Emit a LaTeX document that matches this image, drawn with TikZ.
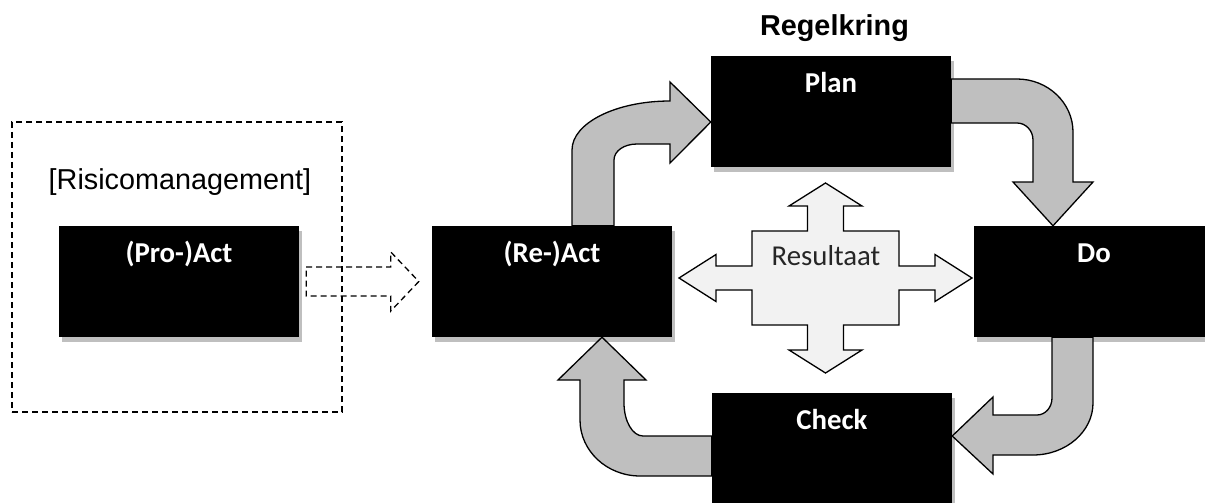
\documentclass[tikz,border=0pt]{standalone}
\usepackage{fontspec}
\setmainfont{Carlito}
\newfontfamily\arialfont{Liberation Sans}
\usetikzlibrary{shadows,calc}

\begin{document}
\begin{tikzpicture}[x=1pt,y=-1pt,
  stage/.style={fill=black, minimum width=240pt, minimum height=111pt, inner sep=0pt,
    drop shadow={shadow xshift=3pt, shadow yshift=-5pt, fill=black!25, opacity=1}},
  stagelabel/.style={anchor=base, text=white, font=\fontsize{28.8}{34}\selectfont\bfseries},
  flow/.style={fill=black!25, draw=black, line width=1.3pt, line join=miter},
  cross/.style={fill=black!5, draw=black, line width=1.3pt},
  dashline/.style={draw=black, line width=1.3pt, dash pattern=on 6pt off 4pt}
]
\useasboundingbox (0,0) rectangle (1205,503);
\fill[white] (0,0) rectangle (1205,503);

% risk management frame and its title
\node[dashline, minimum width=330pt, minimum height=290pt, inner sep=0pt] (riskzone) at (177,267) {};
\node[anchor=base, font=\arialfont\fontsize{28.8}{34}\selectfont] (risktitle) at (180,189) {[Risicomanagement]};

% title of the control loop
\node[anchor=base, font=\arialfont\fontsize{28.8}{34}\selectfont\bfseries] (looptitle) at (834.5,36) {Regelkring};

% stages
\node[stage] (proact) at (179,281.5) {};
\node[stage] (react)  at (552,281.5) {};
\node[stage] (plan)   at (831,111.5) {};
\node[stage] (do)     at (1094,281.5) {};
\node[stage] (check)  at (832,448.5) {};

\node[stagelabel] (proactlbl) at ($(proact.north)+(0,37)$) {(Pro-)Act};
\node[stagelabel] (reactlbl)  at ($(react.north)+(0,37)$)  {(Re-)Act};
\node[stagelabel] (planlbl)   at ($(plan.north)+(0,37)$)   {Plan};
\node[stagelabel] (dolbl)     at ($(do.north)+(0,37)$)     {Do};
\node[stagelabel] (checklbl)  at ($(check.north)+(0,37)$)  {Check};

% dashed block arrow from the proactive stage to the reactive stage
\draw[dashline] ($(proact.east)+(7,-14.5)$) -- ($(react.west)+(-41,-14.5)$)
  -- ($(react.west)+(-41,-29.5)$) -- ($(react.west)+(-13,0)$)
  -- ($(react.west)+(-41,29.5)$) -- ($(react.west)+(-41,14.5)$)
  -- ($(proact.east)+(7,14.5)$) -- cycle;

% curved block arrows of the loop
\draw[flow] (react.north -| 572,0) -- (572,150)
  .. controls (572,123) and (616,101) .. (670,101) -- (670,82)
  -- (plan.west |- 0,122) -- (670,163) -- (670,144) -- (637,144)
  .. controls (624,144) and (614,151) .. (614,160) -- (react.north -| 614,0) -- cycle;

\draw[flow] (plan.east |- 0,79) -- (1017,79)
  .. controls (1048,79) and (1073,103) .. (1073,132) -- (1073,182) -- (1093,182)
  -- (do.north -| 1053,0) -- (1013,182) -- (1033,182) -- (1033,140)
  .. controls (1033,130.6) and (1025.8,123) .. (1017,123) -- (plan.east |- 0,123) -- cycle;

\draw[flow] (do.south -| 1093,0) -- (1093,403)
  .. controls (1093,431.7) and (1066,455) .. (1033,455) -- (993,455) -- (993,474)
  -- (check.east |- 0,436) -- (993,397) -- (993,415) -- (1037,415)
  .. controls (1045.3,415) and (1052,407.4) .. (1052,398) -- (do.south -| 1052,0) -- cycle;

\draw[flow] (check.west |- 0,436) -- (643,436)
  .. controls (632.5,436) and (624,421.2) .. (624,403) -- (624,380) -- (646,380)
  -- (react.south -| 602,0) -- (558,380) -- (580,380) -- (580,420)
  .. controls (580,450.9) and (606.9,476) .. (640,476) -- (check.west |- 0,476) -- cycle;

% four-way result arrow in the middle of the loop
\coordinate (hub) at (825.5,278);
\begin{scope}[shift={(hub)}]
\draw[cross] (0,-95) -- (36.5,-72) -- (18,-72) -- (18,-47) -- (73.5,-47) -- (73.5,-12)
  -- (109.5,-12) -- (109.5,-23.5) -- (146.5,0) -- (109.5,23.5) -- (109.5,12) -- (73.5,12)
  -- (73.5,47) -- (18,47) -- (18,72) -- (36.5,72) -- (0,95) -- (-36.5,72) -- (-18,72)
  -- (-18,47) -- (-73.5,47) -- (-73.5,12) -- (-109.5,12) -- (-109.5,23.5) -- (-146.5,0)
  -- (-109.5,-23.5) -- (-109.5,-12) -- (-73.5,-12) -- (-73.5,-47) -- (-18,-47) -- (-18,-72)
  -- (-36.5,-72) -- cycle;
\end{scope}
\node[anchor=base, font=\fontsize{28.8}{34}\selectfont, text=black!85] (result) at (826,265) {Resultaat};
\end{tikzpicture}
\end{document}
